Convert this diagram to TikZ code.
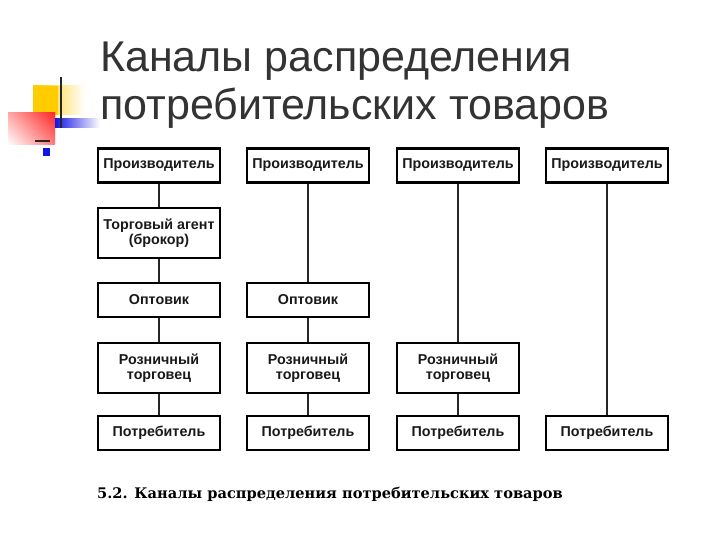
\documentclass[tikz,border=0pt]{standalone}
\usepackage{fontspec}
\setmainfont{Liberation Sans}
\newfontfamily\capfont{DejaVu Serif}
\definecolor{logoyellow}{RGB}{255,204,0}
\definecolor{logored}{RGB}{255,40,40}
\definecolor{logoblue}{RGB}{20,20,230}
\begin{document}
\begin{tikzpicture}[x=1pt,y=-1pt,
  box/.style={draw=black, line width=2.1pt, minimum width=122pt, inner sep=0pt, align=center,
    font=\fontsize{14.3}{14.5}\selectfont\bfseries, text=black!90},
  lowbox/.style={box, minimum height=34pt},
  tallbox/.style={box, minimum height=50pt},
  link/.style={line width=2.2pt, black!85}]
\useasboundingbox (0,0) rectangle (720,540);
\fill[white] (0,0) rectangle (720,540);
% logo
\shade[left color=logoyellow, right color=white] (33,86) rectangle (85,115);
\fill[logoyellow] (33,86) rectangle (58,115);
\shade[top color=logored, bottom color=white] (8,113) rectangle (55,145);
\shade[left color=white, right color=logored, opacity=0.6] (8,113) rectangle (55,145);
\shade[left color=logoblue, right color=white] (55,119) rectangle (100,128);
\draw[line width=2.5pt, black!85] (61,77) -- (61,128);
\draw[line width=2pt, black!85] (35,141) -- (50,141);
\fill[logoblue] (43,148) rectangle (50,156);
% title
\node[anchor=base west, inner sep=0, font=\fontsize{43}{46}\selectfont, text=black!80] (t1) at (100,72) {Каналы распределения};
\node[anchor=base west, inner sep=0, font=\fontsize{43}{46}\selectfont, text=black!80] (t2) at (100,120) {потребительских товаров};
% column 1
\node[lowbox] (p1) at (159,165.5) {Производитель};
\node[tallbox] (a1) at (159,233) {Торговый агент\\(брокор)};
\node[lowbox] (o1) at (159,300) {Оптовик};
\node[tallbox] (r1) at (159,368) {Розничный\\торговец};
\node[lowbox] (c1) at (159,433) {Потребитель};
% column 2
\node[lowbox] (p2) at (308,165.5) {Производитель};
\node[lowbox] (o2) at (308,300) {Оптовик};
\node[tallbox] (r2) at (308,368) {Розничный\\торговец};
\node[lowbox] (c2) at (308,433) {Потребитель};
% column 3
\node[lowbox] (p3) at (458,165.5) {Производитель};
\node[tallbox] (r3) at (458,368) {Розничный\\торговец};
\node[lowbox] (c3) at (458,433) {Потребитель};
% column 4
\node[lowbox] (p4) at (607,165.5) {Производитель};
\node[lowbox] (c4) at (607,433) {Потребитель};
% links
\draw[link] (p1) -- (a1);
\draw[link] (a1) -- (o1);
\draw[link] (o1) -- (r1);
\draw[link] (r1) -- (c1);
\draw[link] (p2) -- (o2);
\draw[link] (o2) -- (r2);
\draw[link] (r2) -- (c2);
\draw[link] (p3) -- (r3);
\draw[link] (r3) -- (c3);
\draw[link] (p4) -- (c4);
% caption
\node[anchor=base west, inner sep=0, font=\capfont\bfseries\fontsize{14.6}{16}\selectfont] (cap) at (97,498) {5.2. Каналы распределения потребительских товаров};
\end{tikzpicture}
\end{document}
